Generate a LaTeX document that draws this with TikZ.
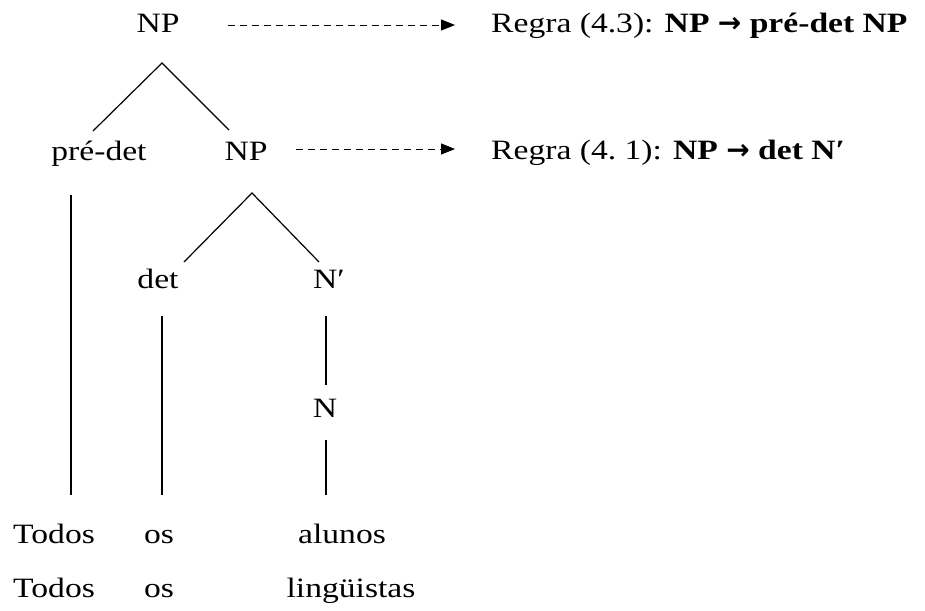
\documentclass[tikz,border=0pt]{standalone}
\usepackage{fontspec}
\setmainfont{Liberation Serif}[FakeStretch=1.2]
\newfontfamily\arrowfont{DejaVu Sans}
\newcommand{\bigarrow}{{\arrowfont\bfseries →}}
\usetikzlibrary{arrows.meta}
\begin{document}
\begin{tikzpicture}[x=1pt,y=-1pt,
  lbl/.style={inner sep=0pt,font=\fontsize{28}{32}\selectfont,anchor=base},
  lblw/.style={lbl,anchor=base west},
  branch/.style={line width=1.2pt},
  rulearrow/.style={line width=0.9pt,dash pattern=on 7pt off 5pt,-{Triangle[length=14pt,width=11pt]}}]
\useasboundingbox (0,0) rectangle (925,610);
% tree labels
\node[lbl] (np1) at (158,33) {NP};
\node[lbl] (predet) at (99,160) {pré-det};
\node[lbl] (np2) at (246,160) {NP};
\node[lbl] (det) at (158,288) {det};
\node[lblw] (nbar) at (313,288) {N′};
\node[lbl] (n) at (325,417) {N};
% words
\node[lblw] (todos1) at (13,543) {Todos};
\node[lbl] (os1) at (159,543) {os};
\node[lbl] (alunos) at (342,543) {alunos};
\node[lblw] (todos2) at (13,597) {Todos};
\node[lbl] (os2) at (159,597) {os};
\node[lbl] (linguistas) at (351,597) {lingüistas};
% rules
\node[lblw] (rule1) at (491,33) {Regra (4.3): \textbf{NP \bigarrow{} pré-det NP}};
\node[lblw] (rule2) at (491,159) {Regra (4.~1): \textbf{NP \bigarrow{} det N′}};
% coordinates for branches
\coordinate (t1) at (162,63);
\coordinate (t1l) at (93,131);
\coordinate (t1r) at (229,130);
\coordinate (t2) at (252,193);
\coordinate (t2l) at (184,262);
\coordinate (t2r) at (319,262);
\coordinate (pa) at (71,195);
\coordinate (pb) at (71,495);
\coordinate (da) at (162,316);
\coordinate (db) at (162,495);
\coordinate (na) at (326,316);
\coordinate (nb) at (326,385);
\coordinate (nc) at (326,440);
\coordinate (nd) at (326,495);
\coordinate (a1s) at (228,25);
\coordinate (a1e) at (455,25);
\coordinate (a2s) at (296,149);
\coordinate (a2e) at (455,149);
% branches
\draw[branch] (t1l) -- (t1) -- (t1r);
\draw[branch] (t2l) -- (t2) -- (t2r);
\draw[branch] (pa) -- (pb);
\draw[branch] (da) -- (db);
\draw[branch] (na) -- (nb);
\draw[branch] (nc) -- (nd);
% dashed arrows
\draw[rulearrow] (a1s) -- (a1e);
\draw[rulearrow] (a2s) -- (a2e);
\end{tikzpicture}
\end{document}
